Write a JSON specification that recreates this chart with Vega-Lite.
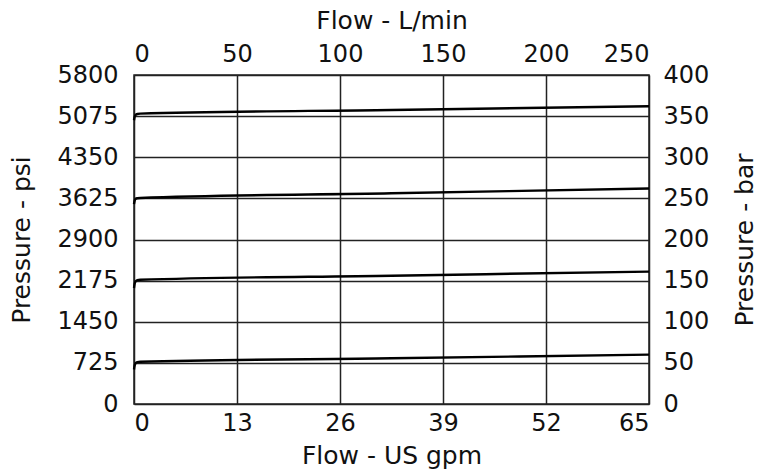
{
  "$schema": "https://vega.github.io/schema/vega-lite/v6.json",
  "width": 515,
  "height": 329,
  "autosize": "none",
  "padding": {"left": 134, "top": 75, "right": 109, "bottom": 72},
  "background": "white",
  "config": {
    "view": {"stroke": "#222", "strokeWidth": 1.5},
    "font": "DejaVu Sans",
    "axis": {
      "domain": false,
      "ticks": false,
      "grid": false,
      "gridColor": "#222",
      "gridWidth": 1.5,
      "gridOpacity": 1,
      "labelFont": "DejaVu Sans",
      "labelFontSize": 24,
      "labelFontWeight": "normal",
      "labelColor": "#111",
      "titleFont": "DejaVu Sans",
      "titleFontSize": 25,
      "titleFontWeight": "normal",
      "titleColor": "#111"
    }
  },
  "data": {
    "values": [
      {"series": "A", "lpm": 0, "bar": 42},
      {"series": "A", "lpm": 0.3, "bar": 46.5},
      {"series": "A", "lpm": 0.8, "bar": 49.5},
      {"series": "A", "lpm": 1.6, "bar": 50.8},
      {"series": "A", "lpm": 3, "bar": 51.3},
      {"series": "A", "lpm": 125, "bar": 55.6},
      {"series": "A", "lpm": 250, "bar": 60},
      {"series": "B", "lpm": 0, "bar": 141},
      {"series": "B", "lpm": 0.3, "bar": 146},
      {"series": "B", "lpm": 0.8, "bar": 149},
      {"series": "B", "lpm": 1.6, "bar": 150.5},
      {"series": "B", "lpm": 3, "bar": 151},
      {"series": "B", "lpm": 125, "bar": 156},
      {"series": "B", "lpm": 250, "bar": 161},
      {"series": "C", "lpm": 0, "bar": 243},
      {"series": "C", "lpm": 0.3, "bar": 247},
      {"series": "C", "lpm": 0.8, "bar": 249.3},
      {"series": "C", "lpm": 1.6, "bar": 250.2},
      {"series": "C", "lpm": 3, "bar": 250.5},
      {"series": "C", "lpm": 125, "bar": 256.2},
      {"series": "C", "lpm": 250, "bar": 262},
      {"series": "D", "lpm": 0, "bar": 345},
      {"series": "D", "lpm": 0.3, "bar": 349},
      {"series": "D", "lpm": 0.8, "bar": 351.5},
      {"series": "D", "lpm": 1.6, "bar": 352.6},
      {"series": "D", "lpm": 3, "bar": 353},
      {"series": "D", "lpm": 125, "bar": 357.5},
      {"series": "D", "lpm": 250, "bar": 362}
    ]
  },
  "layer": [
    {
      "mark": {"type": "line", "color": "#000", "strokeWidth": 2.4, "interpolate": "monotone"},
      "encoding": {
        "x": {
          "field": "lpm", "type": "quantitative",
          "scale": {"domain": [0, 250], "nice": false, "zero": true},
          "axis": {
            "orient": "bottom", "values": [0, 50, 100, 150, 200, 250],
            "labelExpr": "format(datum.value * 65 / 250, 'd')",
            "title": "Flow - US gpm", "grid": true,
            "labelPadding": 7, "titlePadding": 8
          }
        },
        "y": {
          "field": "bar", "type": "quantitative",
          "scale": {"domain": [0, 400], "nice": false},
          "axis": {
            "orient": "left", "values": [0, 50, 100, 150, 200, 250, 300, 350, 400],
            "labelExpr": "format(datum.value * 14.5, 'd')",
            "title": "Pressure - psi", "grid": true,
            "labelPadding": 16, "titlePadding": 22
          }
        },
        "detail": {"field": "series"}
      }
    },
    {
      "mark": {"type": "line", "strokeOpacity": 0},
      "encoding": {
        "x": {
          "field": "lpm", "type": "quantitative",
          "scale": {"domain": [0, 250], "nice": false, "zero": true},
          "axis": {
            "orient": "top", "values": [0, 50, 100, 150, 200, 250],
            "title": "Flow - L/min", "grid": false,
            "labelPadding": 9, "titlePadding": 9
          }
        },
        "y": {
          "field": "bar", "type": "quantitative",
          "scale": {"domain": [0, 400], "nice": false},
          "axis": {
            "orient": "right", "values": [0, 50, 100, 150, 200, 250, 300, 350, 400],
            "title": "Pressure - bar", "grid": false,
            "labelPadding": 14, "titlePadding": 24, "titleAngle": 270, "titleBaseline": "top"
          }
        },
        "detail": {"field": "series"}
      }
    }
  ],
  "resolve": {"scale": {"x": "independent", "y": "independent"}}
}
